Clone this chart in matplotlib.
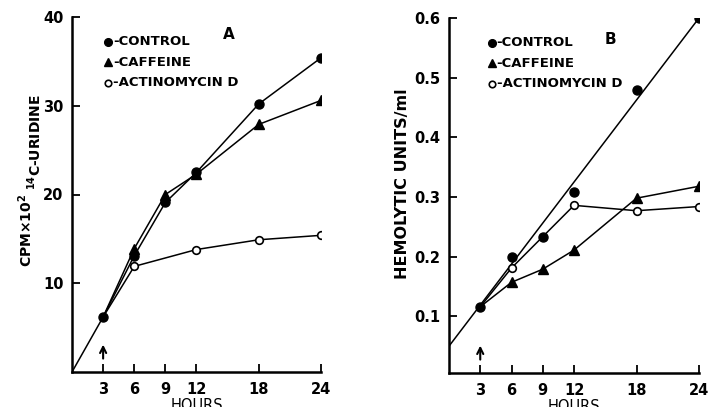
import numpy as np
import matplotlib
matplotlib.use("Agg")
import matplotlib.pyplot as plt

# ---------------- data ----------------
hour_ticks = [3, 6, 9, 12, 18, 24]

# Panel A: CPM x 10^2 14C-uridine
ctrl_A_hours = [0, 3, 6, 9, 12, 18, 24]
ctrl_A = [0, 6.2, 13.1, 19.1, 22.5, 30.2, 35.4]
caff_A_hours = [3, 6, 9, 12, 18, 24]
caff_A = [6.2, 13.9, 20.0, 22.3, 27.9, 30.6]
actd_A_hours = [3, 6, 12, 18, 24]
actd_A = [6.2, 11.9, 13.8, 14.9, 15.4]
yticks_A = [10, 20, 30, 40]

# Panel B: hemolytic units/ml
ctrl_B_hours = [3, 6, 9, 12, 18, 24]
ctrl_B = [0.116, 0.199, 0.233, 0.308, 0.479, 0.600]
fit_B_hours = [0, 24]
fit_B = [0.05, 0.60]
caff_B_hours = [3, 6, 9, 12, 18, 24]
caff_B = [0.116, 0.157, 0.179, 0.211, 0.298, 0.318]
actd_B_hours = [3, 6, 12, 18, 24]
actd_B = [0.116, 0.181, 0.286, 0.277, 0.284]
yticks_B = [0.1, 0.2, 0.3, 0.4, 0.5, 0.6]
yticklabels_B = ["0.1", "0.2", "0.3", "0.4", "0.5", "0.6"]

legend_labels = ["-CONTROL", "-CAFFEINE", "-ACTINOMYCIN D"]

# ---------------- style ----------------
plt.rcParams['font.family'] = ['DejaVu Sans']
plt.rcParams['font.weight'] = 'bold'
LW = 1.1
fig = plt.figure(figsize=(7.1, 4.07), dpi=100)

axA = fig.add_axes([72/710, 35/407, 249/710, 355/407])
axB = fig.add_axes([449/710, 34/407, 250/710, 355/407])

def style(ax):
    for s in ["top", "right"]:
        ax.spines[s].set_visible(False)
    for s in ["left", "bottom"]:
        ax.spines[s].set_linewidth(1.8)
    ax.tick_params(direction="in", length=6, width=1.3, labelsize=10.5)
    ax.tick_params(axis="x", pad=7)
    ax.tick_params(axis="y", pad=6)
    ax.set_xticks(hour_ticks)
    ax.set_xticklabels([str(h) for h in hour_ticks])
    ax.set_xlim(0, 24)
    ax.set_xlabel("HOURS", fontsize=10.5, labelpad=1)

mk_c = dict(marker="o", ms=6.5, mfc="black", mec="black")
mk_t = dict(marker="^", ms=7.5, mfc="black", mec="black")
mk_o = dict(marker="o", ms=5.5, mfc="white", mec="black", mew=1.2)

# ---- Panel A ----
axA.plot(ctrl_A_hours, ctrl_A, color="black", lw=LW, markevery=slice(1, None), **mk_c, zorder=3)
axA.plot(caff_A_hours, caff_A, color="black", lw=LW, markevery=slice(1, None), **mk_t, zorder=3)
axA.plot(actd_A_hours, actd_A, color="black", lw=LW, markevery=slice(1, None), **mk_o, zorder=3)
style(axA)
axA.set_ylim(0, 40)
axA.set_yticks(yticks_A)
axA.set_yticklabels([str(v) for v in yticks_A])

# ---- Panel B ----
axB.plot(fit_B_hours, fit_B, color="black", lw=LW, zorder=2)
axB.plot(ctrl_B_hours, ctrl_B, ls="none", **mk_c, zorder=4)
axB.plot(caff_B_hours, caff_B, color="black", lw=LW, markevery=slice(1, None), **mk_t, zorder=3)
axB.plot(actd_B_hours, actd_B, color="black", lw=LW, markevery=slice(1, None), **mk_o, zorder=3)
style(axB)
axB.set_ylim(0.005, 0.6)
axB.set_yticks(yticks_B)
axB.set_yticklabels(yticklabels_B)

# legends (marker + text)
def legend(ax, x0, ys):
    styles = [mk_c, mk_t, mk_o]
    for st, lab, y in zip(styles, legend_labels, ys):
        s = dict(st)
        s["ms"] = s["ms"] * 0.85
        ax.plot([x0], [y], transform=ax.transAxes, ls="none", clip_on=False, **s)
        ax.text(x0 + 0.02, y, lab, transform=ax.transAxes, fontsize=9.5,
                va="center", ha="left")

legend(axA, 0.145, [0.93, 0.872, 0.815])
legend(axB, 0.17, [0.93, 0.872, 0.815])

axA.text(0.63, 0.95, "A", transform=axA.transAxes, fontsize=11, fontweight="bold",
         ha="center", va="center")
axB.text(0.645, 0.94, "B", transform=axB.transAxes, fontsize=11, fontweight="bold",
         ha="center", va="center")

# arrows at 3 h
for ax in (axA, axB):
    ax.annotate("", xy=(3, 0.085), xytext=(3, 0.03),
                xycoords=("data", "axes fraction"), textcoords=("data", "axes fraction"),
                arrowprops=dict(arrowstyle="->", lw=1.5, color="black",
                                mutation_scale=11))

# y labels
fig.text(26/710, 1 - 230/407, r"CPM$\times$10$^2$", rotation=90, fontsize=10,
         ha="center", va="center")
fig.text(35/710, 1 - 142/407, r"$^{14}$C-URIDINE", rotation=90, fontsize=10,
         ha="center", va="center")
fig.text(403/710, 1 - 184/407, "HEMOLYTIC UNITS/ml", rotation=90, fontsize=11.5,
         ha="center", va="center")

fig.savefig("out.png", dpi=100)
